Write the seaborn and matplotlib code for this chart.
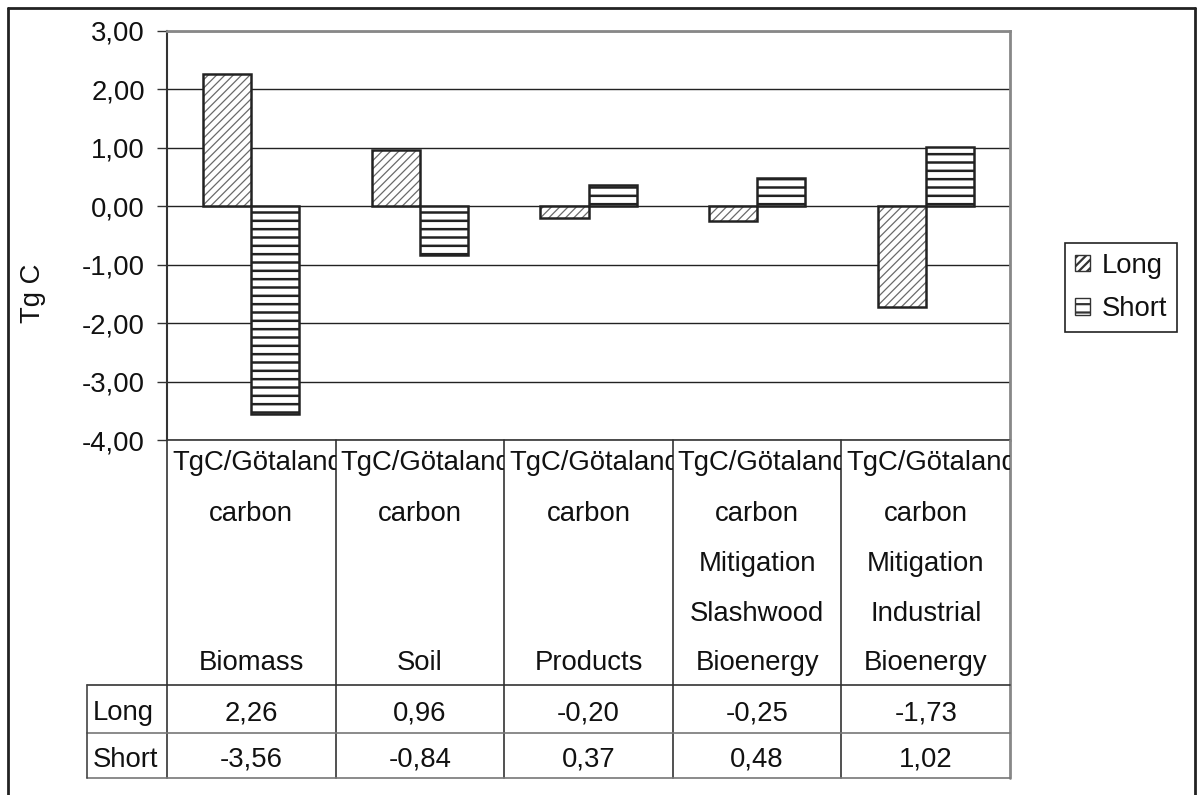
import matplotlib
matplotlib.use('Agg')
import matplotlib.pyplot as plt
import matplotlib.colors as mcolors
import seaborn as sns
import pandas as pd
from matplotlib.patches import Patch
from matplotlib.lines import Line2D
from matplotlib.transforms import Bbox, TransformedBbox, blended_transform_factory, offset_copy

# ---------------- data ----------------
categories = ["TgC/Götaland carbon Biomass", "TgC/Götaland carbon Soil",
              "TgC/Götaland carbon Products",
              "TgC/Götaland carbon Mitigation Slashwood Bioenergy",
              "TgC/Götaland carbon Mitigation Industrial Bioenergy"]
header_lines = [["TgC/Götaland", "carbon", "", "", "Biomass"],
                ["TgC/Götaland", "carbon", "", "", "Soil"],
                ["TgC/Götaland", "carbon", "", "", "Products"],
                ["TgC/Götaland", "carbon", "Mitigation", "Slashwood", "Bioenergy"],
                ["TgC/Götaland", "carbon", "Mitigation", "Industrial", "Bioenergy"]]
series = ["Long", "Short"]
long_vals = [2.26, 0.96, -0.20, -0.25, -1.73]
short_vals = [-3.56, -0.84, 0.37, 0.48, 1.02]
yticks = [3, 2, 1, 0, -1, -2, -3, -4]
ylabel = "Tg C"

# ---------------- style ----------------
sns.set_theme(style="white")
plt.rcParams['font.family'] = ['Liberation Sans', 'DejaVu Sans']
plt.rcParams['hatch.linewidth'] = 1.6
FS = 19.8
TXT = '#111111'

W, H = 1198, 795
fig = plt.figure(figsize=(W / 100, H / 100), dpi=100)
fig.patch.set_facecolor('white')

def fx(px):
    return px / W

def fy(py):
    return 1 - py / H

ax = fig.add_axes([fx(167), fy(440), fx(1010) - fx(167), fy(31) - fy(440)])
ax.set_facecolor('white')

df = pd.DataFrame({
    'category': categories * 2,
    'series': [series[0]] * len(categories) + [series[1]] * len(categories),
    'value': long_vals + short_vals,
})
sns.barplot(data=df, x='category', y='value', hue='series', order=categories,
            hue_order=series, width=0.57, palette=['white', 'white'],
            saturation=1, edgecolor='#222222', linewidth=1.8, legend=False,
            errorbar=None, ax=ax, zorder=3)

hatch_specs = {0: ('////', '#6a6a6a', 0.9), 1: ('--', '#222222', 1.8)}
for ci, cont in enumerate(ax.containers):
    h, hc, hlw = hatch_specs[ci]
    for p in cont:
        p.set_facecolor('white')
        p.set_edgecolor('#222222')
        p.set_hatch(h)
        p._hatch_color = mcolors.to_rgba(hc)
        if hasattr(p, 'set_hatch_linewidth'):
            p.set_hatch_linewidth(hlw)
        p.set_zorder(3)

ax.set_xlim(-0.5, len(categories) - 0.5)
ax.set_ylim(min(yticks), max(yticks))
ax.set_yticks(yticks)
ax.set_yticklabels([f"{t:.2f}".replace('.', ',') for t in yticks])
ax.yaxis.grid(True, color='#222222', lw=1.0, zorder=0)
ax.xaxis.grid(False)
ax.set_axisbelow(True)
ax.set_xlabel('')
ax.set_ylabel('')
ax.tick_params(axis='x', bottom=False, labelbottom=False)
ax.tick_params(axis='y', left=True, direction='out', length=7, width=1.0,
               color='#333333', labelsize=FS, labelcolor=TXT, pad=9)
for s in ['top', 'right']:
    ax.spines[s].set_color('#888888')
    ax.spines[s].set_linewidth(2.0)
ax.spines['left'].set_color('#333333')
ax.spines['left'].set_linewidth(1.5)
ax.spines['bottom'].set_color('#333333')
ax.spines['bottom'].set_linewidth(1.2)

fig.text(fx(33), fy(293), ylabel, rotation=90, ha='center', va='center',
         fontsize=FS, color=TXT)

# ---------------- data table ----------------
tr = blended_transform_factory(ax.transData, fig.transFigure)
n = len(categories)
row_tops = [685, 733, 778]
for i in range(n + 1):
    xe = i - 0.5
    col = '#888888' if i == n else '#333333'
    lw = 2.0 if i == n else 1.2
    fig.add_artist(Line2D([xe, xe], [fy(440), fy(778)], transform=tr,
                          color=col, lw=lw))
x_left_data = ax.transData.inverted().transform((fx(87) * W, 0))[0]
for k, yy in enumerate(row_tops):
    col = '#333333' if k == 0 else '#777777'
    fig.add_artist(Line2D([x_left_data, n - 0.5], [fy(yy), fy(yy)],
                          transform=tr, color=col, lw=1.2))
fig.add_artist(Line2D([x_left_data, x_left_data], [fy(685), fy(778)],
                      transform=tr, color='#444444', lw=1.2))

line_baselines = [470, 521, 571, 621, 670]
for i, lines in enumerate(header_lines):
    clip = TransformedBbox(Bbox.from_extents(i - 0.5, 0, i + 0.5, 1), tr)
    for j, txt in enumerate(lines):
        if not txt:
            continue
        if j == 0:
            t = fig.text(i - 0.5, fy(line_baselines[j]), txt, ha='left',
                         va='baseline', fontsize=FS, color=TXT,
                         transform=offset_copy(tr, fig=fig, x=5, units='dots'))
        else:
            t = fig.text(i, fy(line_baselines[j]), txt, ha='center',
                         va='baseline', fontsize=FS, color=TXT, transform=tr)
        t.set_clip_on(True)
        t.set_clip_box(clip)

value_baselines = [720, 767]
for r, (name, vals) in enumerate(zip(series, [long_vals, short_vals])):
    fig.text(fx(93), fy(value_baselines[r]), name, ha='left', va='baseline',
             fontsize=FS, color=TXT)
    for i, v in enumerate(vals):
        fig.text(i, fy(value_baselines[r]), f"{v:.2f}".replace('.', ','),
                 ha='center', va='baseline', fontsize=FS, color=TXT,
                 transform=tr)

# ---------------- legend ----------------
handles = []
for ci, name in enumerate(series):
    h, hc, hlw = hatch_specs[ci]
    handles.append(Patch(facecolor='white', edgecolor='#333333', hatch=h,
                         linewidth=1.0, label=name))
leg = fig.legend(handles=handles, loc='upper left',
                 bbox_to_anchor=(fx(1065), fy(243)), frameon=True,
                 fancybox=False, shadow=False, framealpha=1,
                 edgecolor='#222222', fontsize=FS, handlelength=0.55,
                 handleheight=0.55, handletextpad=0.45, labelspacing=0.65,
                 borderpad=0.35, borderaxespad=0)
leg.get_frame().set_linewidth(1.2)
for t in leg.get_texts():
    t.set_color(TXT)

# ---------------- outer border ----------------
bc = '#222222'
fig.add_artist(Line2D([fx(8), fx(8)], [fy(8), 0], color=bc, lw=2))
fig.add_artist(Line2D([fx(8), fx(1195)], [fy(8), fy(8)], color=bc, lw=2))
fig.add_artist(Line2D([fx(1195), fx(1195)], [fy(8), 0], color=bc, lw=2))

fig.savefig('out.png', dpi=100, facecolor='white')
